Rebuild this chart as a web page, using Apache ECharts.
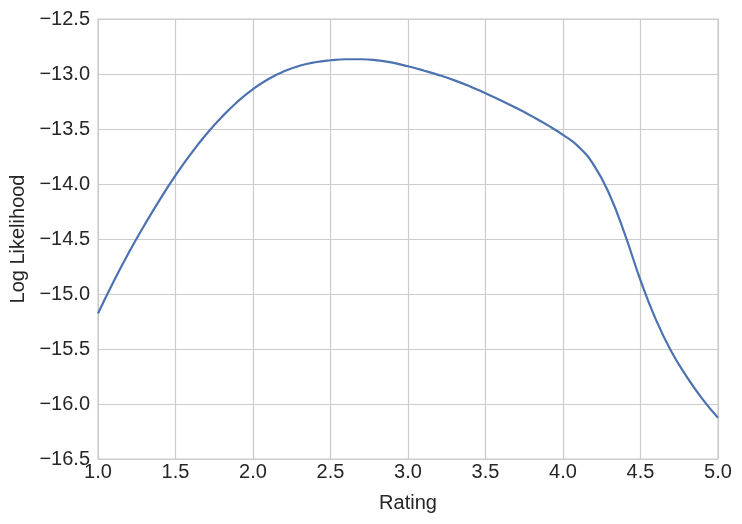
<!DOCTYPE html>
<html>
<head>
<meta charset="utf-8">
<script src="https://cdn.jsdelivr.net/npm/echarts@6/dist/echarts.min.js"></script>
<style>
html,body{margin:0;padding:0;background:#fff;}
#chart{width:742px;height:524px;}
</style>
</head>
<body>
<div id="chart"></div>
<script>
// Data
var ratings = [1.0, 1.1, 1.2, 1.3, 1.4, 1.5, 1.6, 1.7, 1.8, 1.9,
               2.0, 2.1, 2.2, 2.3, 2.4, 2.5, 2.6, 2.7, 2.8, 2.9,
               3.0, 3.1, 3.2, 3.3, 3.4, 3.5, 3.6, 3.7, 3.8, 3.9,
               4.0, 4.1, 4.2, 4.3, 4.4, 4.5, 4.6, 4.7, 4.8, 4.9, 5.0];
var logLikelihood = [-15.177, -14.889, -14.621, -14.373, -14.140, -13.922, -13.724, -13.546, -13.389, -13.252,
                     -13.137, -13.045, -12.975, -12.925, -12.893, -12.875, -12.866, -12.866, -12.876, -12.897,
                     -12.930, -12.968, -13.010, -13.058, -13.113, -13.175, -13.240, -13.310, -13.385, -13.465,
                     -13.553, -13.660, -13.830, -14.095, -14.460, -14.875, -15.235, -15.525, -15.755, -15.955, -16.125];
var xTicks = [1.0, 1.5, 2.0, 2.5, 3.0, 3.5, 4.0, 4.5, 5.0];
var yTicks = [-16.5, -16.0, -15.5, -15.0, -14.5, -14.0, -13.5, -13.0, -12.5];
var xLabel = 'Rating';
var yLabel = 'Log Likelihood';

var points = ratings.map(function (r, i) { return [r, logLikelihood[i]]; });
var textColor = '#262626';
var fontFamily = '"Liberation Sans", Arial, sans-serif';

function fmt(v) {
  var s = Math.abs(v).toFixed(1);
  return v < 0 ? '\u2212' + s : s;
}

var chart = echarts.init(document.getElementById('chart'), null, {renderer: 'canvas'});
chart.setOption({
  animation: false,
  backgroundColor: '#ffffff',
  grid: {
    left: 98, right: 24, top: 19, bottom: 65,
    show: true, borderColor: '#cccccc', borderWidth: 1.2, backgroundColor: 'transparent'
  },
  xAxis: {
    type: 'value',
    min: xTicks[0], max: xTicks[xTicks.length - 1], interval: 0.5,
    name: xLabel, nameLocation: 'middle', nameGap: 34,
    nameTextStyle: {color: textColor, fontSize: 20, fontFamily: fontFamily},
    axisLine: {show: false},
    axisTick: {show: false},
    axisLabel: {color: textColor, fontSize: 20, fontFamily: fontFamily, margin: 3,
                formatter: function (v) { return fmt(v); }},
    splitLine: {show: true, lineStyle: {color: '#cccccc', width: 1.2}}
  },
  yAxis: {
    type: 'value',
    min: yTicks[0], max: yTicks[yTicks.length - 1], interval: 0.5,
    name: yLabel, nameLocation: 'middle', nameGap: 70, nameRotate: 90,
    nameTextStyle: {color: textColor, fontSize: 20, fontFamily: fontFamily},
    axisLine: {show: false},
    axisTick: {show: false},
    axisLabel: {color: textColor, fontSize: 20, fontFamily: fontFamily, margin: 8,
                formatter: function (v) { return fmt(v); }},
    splitLine: {show: true, lineStyle: {color: '#cccccc', width: 1.2}}
  },
  series: [{
    type: 'line',
    data: points,
    smooth: 0.5,
    showSymbol: false,
    lineStyle: {color: '#4C72B0', width: 2.2},
    clip: true
  }]
});
</script>
</body>
</html>
